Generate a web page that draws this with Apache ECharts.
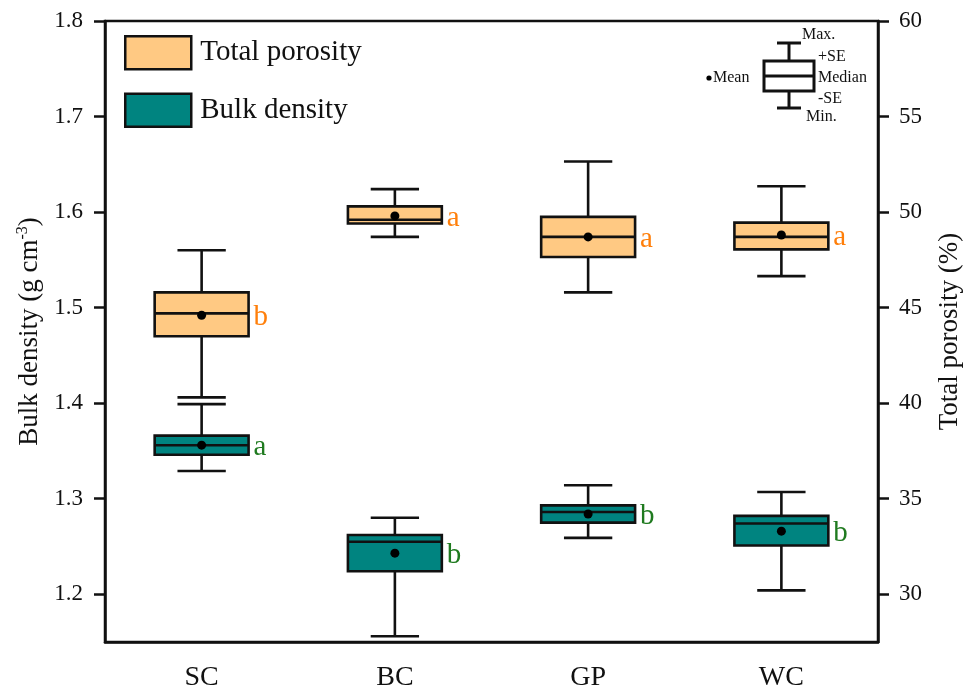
<!DOCTYPE html>
<html>
<head>
<meta charset="utf-8">
<script src="https://cdn.jsdelivr.net/npm/echarts@6/dist/echarts.min.js"></script>
<style>
  html, body { margin: 0; padding: 0; background: #fff; }
  #chart { width: 978px; height: 692px; }
</style>
</head>
<body>
<div id="chart"></div>
<script>
// Sites
const categories = ['SC', 'BC', 'GP', 'WC'];

// Total porosity (%): min, mean-SE, median, mean+SE, max, mean
const tpMin    = [40.3, 48.7, 45.8, 46.65];
const tpLow    = [43.5, 49.4, 47.65, 48.05];
const tpMedian = [44.7, 49.6, 48.7, 48.7];
const tpHigh   = [45.8, 50.3, 49.75, 49.45];
const tpMax    = [48.0, 51.2, 52.65, 51.35];
const tpMean   = [44.6, 49.8, 48.7, 48.8];
const tpLetters = ['b', 'a', 'a', 'a'];

// Bulk density (g cm-3): min, mean-SE, median, mean+SE, max, mean
const bdMin    = [1.329, 1.156, 1.259, 1.204];
const bdLow    = [1.346, 1.224, 1.275, 1.251];
const bdMedian = [1.356, 1.255, 1.286, 1.274];
const bdHigh   = [1.366, 1.262, 1.293, 1.282];
const bdMax    = [1.399, 1.280, 1.314, 1.307];
const bdMean   = [1.356, 1.243, 1.284, 1.266];
const bdLetters = ['a', 'b', 'b', 'b'];

// Axis tick values
const bdTicks = [1.2, 1.3, 1.4, 1.5, 1.6, 1.7, 1.8];
const tpTicks = [30, 35, 40, 45, 50, 55, 60];

const FONT = "'Liberation Serif', 'Times New Roman', serif";
const INK = '#111';
const TP_FILL = '#FFC983';
const BD_FILL = '#008480';
const TP_LETTER = '#FF7F0A';
const BD_LETTER = '#1F7A1F';

function rows(mins, lows, meds, highs, maxs, means) {
  return categories.map((c, i) => [i, mins[i], lows[i], meds[i], highs[i], maxs[i], means[i]]);
}

function boxRenderer(fill, letters, letterColor) {
  return function (params, api) {
    const i = api.value(0);
    const band = api.size([1, 0])[0];
    const half = band * 0.243;
    const capHalf = band * 0.125;
    const x = api.coord([i, api.value(1)])[0];
    const yMin = api.coord([i, api.value(1)])[1];
    const yLo = api.coord([i, api.value(2)])[1];
    const yMed = api.coord([i, api.value(3)])[1];
    const yHi = api.coord([i, api.value(4)])[1];
    const yMax = api.coord([i, api.value(5)])[1];
    const yMean = api.coord([i, api.value(6)])[1];
    const stroke = { stroke: INK, lineWidth: 2.6 };
    return {
      type: 'group',
      children: [
        { type: 'line', shape: { x1: x, y1: yHi, x2: x, y2: yMax }, style: stroke },
        { type: 'line', shape: { x1: x, y1: yLo, x2: x, y2: yMin }, style: stroke },
        { type: 'line', shape: { x1: x - capHalf, y1: yMax, x2: x + capHalf, y2: yMax }, style: stroke },
        { type: 'line', shape: { x1: x - capHalf, y1: yMin, x2: x + capHalf, y2: yMin }, style: stroke },
        { type: 'rect', shape: { x: x - half, y: yHi, width: half * 2, height: yLo - yHi },
          style: { fill: fill, stroke: INK, lineWidth: 2.6 } },
        { type: 'line', shape: { x1: x - half, y1: yMed, x2: x + half, y2: yMed }, style: stroke },
        { type: 'circle', shape: { cx: x, cy: yMean, r: 4.5 }, style: { fill: '#000' } },
        { type: 'text', x: x + half + 5, y: yMean + 2,
          style: { text: letters[i], fill: letterColor, font: '29px ' + FONT,
                   verticalAlign: 'middle', align: 'left' } }
      ]
    };
  };
}

const chart = echarts.init(document.getElementById('chart'), null, { renderer: 'canvas' });

// Key explaining the box elements (drawn in the upper-right corner)
const keyLine = { stroke: INK, lineWidth: 3 };
const keyText = (text, x, y) => ({
  type: 'text', x: x, y: y,
  style: { text: text, font: '16px ' + FONT, fill: INK, verticalAlign: 'middle', align: 'left' }
});

chart.setOption({
  animation: false,
  backgroundColor: '#fff',
  grid: { left: 105, right: 100, top: 21, bottom: 49, show: true, borderColor: INK, borderWidth: 2.5 },
  legend: {
    orient: 'vertical', left: 124, top: 35, padding: 0,
    itemWidth: 66, itemHeight: 33, itemGap: 22,
    textStyle: { fontFamily: FONT, fontSize: 29, color: INK, padding: [0, 0, 0, 4] },
    data: [
      { name: 'Total porosity', icon: 'rect', itemStyle: { color: TP_FILL, borderColor: INK, borderWidth: 2.5 } },
      { name: 'Bulk density', icon: 'rect', itemStyle: { color: BD_FILL, borderColor: INK, borderWidth: 2.5 } }
    ]
  },
  xAxis: {
    type: 'category', data: categories, boundaryGap: true,
    axisLine: { lineStyle: { color: INK, width: 2.5 } },
    axisTick: { alignWithLabel: true, length: 10, lineStyle: { color: INK, width: 2.5 } },
    axisLabel: { fontFamily: FONT, fontSize: 28, color: INK, margin: 22 },
    splitLine: { show: false }
  },
  yAxis: [
    {
      type: 'value', min: 1.15, max: 1.8, position: 'left',
      name: 'Bulk density (g cm{sup|-3})', nameLocation: 'middle', nameRotate: 90, nameGap: 55,
      nameTextStyle: { fontFamily: FONT, fontSize: 27, color: INK,
        rich: { sup: { fontFamily: FONT, fontSize: 16, color: INK, verticalAlign: 'top', padding: [0, 0, 14, 0] } } },
      axisLine: { show: true, lineStyle: { color: INK, width: 2.5 } },
      axisTick: { show: true, length: 11, customValues: bdTicks, lineStyle: { color: INK, width: 2.5 } },
      axisLabel: { customValues: bdTicks, formatter: v => v.toFixed(1),
        fontFamily: FONT, fontSize: 23, color: INK, margin: 22 },
      splitLine: { show: false }
    },
    {
      type: 'value', min: 27.5, max: 60, position: 'right',
      name: 'Total porosity (%)', nameLocation: 'middle', nameRotate: 90, nameGap: 58,
      nameTextStyle: { fontFamily: FONT, fontSize: 27, color: INK },
      axisLine: { show: true, lineStyle: { color: INK, width: 2.5 } },
      axisTick: { show: true, length: 11, customValues: tpTicks, lineStyle: { color: INK, width: 2.5 } },
      axisLabel: { customValues: tpTicks, fontFamily: FONT, fontSize: 23, color: INK, margin: 21 },
      splitLine: { show: false }
    }
  ],
  series: [
    {
      name: 'Total porosity', type: 'custom', yAxisIndex: 1,
      itemStyle: { color: TP_FILL },
      encode: { x: 0, y: [1, 2, 3, 4, 5, 6] },
      data: rows(tpMin, tpLow, tpMedian, tpHigh, tpMax, tpMean),
      renderItem: boxRenderer(TP_FILL, tpLetters, TP_LETTER)
    },
    {
      name: 'Bulk density', type: 'custom', yAxisIndex: 0,
      itemStyle: { color: BD_FILL },
      encode: { x: 0, y: [1, 2, 3, 4, 5, 6] },
      data: rows(bdMin, bdLow, bdMedian, bdHigh, bdMax, bdMean),
      renderItem: boxRenderer(BD_FILL, bdLetters, BD_LETTER)
    }
  ],
  graphic: [
    {
      type: 'group', left: 0, top: 0, silent: true,
      children: [
        { type: 'rect', shape: { x: 0, y: 0, width: 1, height: 1 }, style: { fill: 'transparent' } },
        { type: 'line', shape: { x1: 789, y1: 43, x2: 789, y2: 61 }, style: keyLine },
        { type: 'line', shape: { x1: 789, y1: 91, x2: 789, y2: 108 }, style: keyLine },
        { type: 'line', shape: { x1: 777, y1: 43, x2: 801, y2: 43 }, style: keyLine },
        { type: 'line', shape: { x1: 777, y1: 108, x2: 801, y2: 108 }, style: keyLine },
        { type: 'rect', shape: { x: 764, y: 61, width: 50, height: 30 }, style: { fill: '#fff', stroke: INK, lineWidth: 3 } },
        { type: 'line', shape: { x1: 764, y1: 76, x2: 814, y2: 76 }, style: keyLine },
        { type: 'circle', shape: { cx: 709, cy: 78, r: 2.6 }, style: { fill: '#000' } },
        keyText('Mean', 713, 78),
        keyText('Max.', 802, 35),
        keyText('+SE', 818, 57),
        keyText('Median', 818, 78),
        keyText('-SE', 818, 99),
        keyText('Min.', 806, 117)
      ]
    }
  ]
});
</script>
</body>
</html>
